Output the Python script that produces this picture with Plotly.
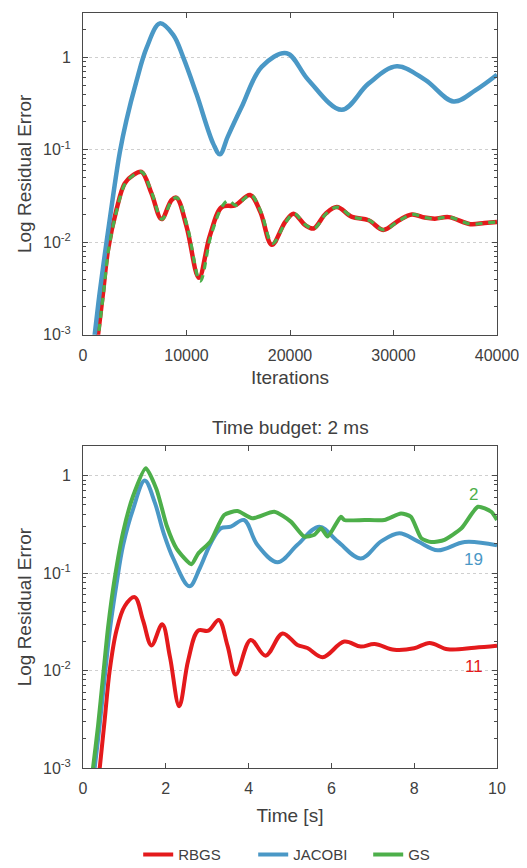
import math
import plotly.graph_objects as go

# ---------------- Data: top panel (error vs iterations) ----------------
iter_jacobi = [900, 1130, 1614, 2260, 2905, 3551, 4196, 5165, 6133, 7424, 8716, 9684,
               10975, 12589, 13226, 14000, 15323, 17258, 19677, 21774, 25000, 27581,
               30323, 33065, 35806, 37903, 40000]
err_jacobi_iter = [6.0e-4, 1.0e-3, 2.86e-3, 9.8e-3, 0.0316, 0.0933, 0.209, 0.553, 1.26, 2.33,
                   1.75, 1.0, 0.398, 0.116, 0.0895, 0.14, 0.29, 0.79, 1.11, 0.57, 0.271,
                   0.52, 0.80, 0.57, 0.333, 0.44, 0.65]

iter_rbgs = [1200, 1453, 1937, 2421, 3228, 4035, 4842, 5649, 6617, 7586, 8554, 9038, 10007,
             11200, 12250, 13400, 14690, 16140, 17140, 18240, 19540, 20340, 21470, 22280,
             23450, 24530, 25990, 27600, 29000, 30500, 31774, 33000, 34000, 35323, 37419,
             38800, 40000]
err_rbgs_iter = [5.8e-4, 1.0e-3, 2.86e-3, 8.3e-3, 0.0224, 0.0433, 0.0531, 0.0577, 0.0338,
                 0.0178, 0.0286, 0.0303, 0.0148, 0.00413, 0.0117, 0.024, 0.0251, 0.0325,
                 0.0212, 0.00938, 0.0166, 0.0204, 0.0153, 0.0141, 0.0204, 0.024, 0.0188,
                 0.0173, 0.0136, 0.0172, 0.0200, 0.0185, 0.0180, 0.0187, 0.0157, 0.0162,
                 0.0166]

iter_gs = [1250, 1500, 1990, 2470, 3270, 4080, 4880, 5690, 6660, 7630, 8600, 9080, 10080,
           11320, 12350, 13500, 14040, 14760, 16200, 17200, 18300, 19600, 20400, 21530,
           22340, 23500, 24580, 26050, 27650, 29050, 30550, 31830, 33050, 34050, 35380,
           37470, 38850, 40000]
err_gs_iter = [5.8e-4, 1.0e-3, 2.86e-3, 8.3e-3, 0.0224, 0.0433, 0.0531, 0.0577, 0.0338,
               0.0178, 0.0286, 0.0303, 0.0148, 0.0038, 0.0117, 0.025, 0.0283, 0.0251,
               0.0325, 0.0212, 0.0097, 0.0166, 0.0204, 0.0153, 0.0141, 0.0204, 0.024,
               0.0188, 0.0173, 0.0136, 0.0172, 0.0200, 0.0185, 0.0180, 0.0187, 0.0157,
               0.0162, 0.0166]

# ---------------- Data: bottom panel (error vs time) ----------------
t_jacobi = [0.22, 0.282, 0.40, 0.525, 0.646, 0.807, 0.969, 1.21, 1.49, 1.735, 1.94, 2.18,
            2.57, 2.82, 3.08, 3.33, 3.57, 3.89, 4.21, 4.70, 5.18, 5.71, 6.15, 6.71, 7.2,
            7.64, 8.09, 8.57, 9.22, 10.0]
err_jacobi_t = [5.9e-4, 1.0e-3, 2.7e-3, 8.65e-3, 0.0256, 0.0759, 0.193, 0.453, 0.889,
                0.528, 0.263, 0.141, 0.0731, 0.112, 0.2, 0.288, 0.299, 0.35, 0.195, 0.129,
                0.195, 0.299, 0.211, 0.141, 0.211, 0.256, 0.211, 0.171, 0.208, 0.192]

t_gs = [0.18, 0.242, 0.363, 0.484, 0.605, 0.767, 0.969, 1.21, 1.517, 1.776, 2.02, 2.26,
        2.62, 2.78, 3.08, 3.41, 3.73, 4.09, 4.62, 5.02, 5.34, 5.59, 5.75, 5.91, 6.23, 6.31,
        6.8, 7.28, 7.68, 7.92, 8.17, 8.41, 8.73, 9.14, 9.54, 9.86, 10.0]
err_gs_t = [6.0e-4, 1.0e-3, 2.7e-3, 8.65e-3, 0.0277, 0.0887, 0.263, 0.617, 1.19, 0.721,
            0.307, 0.178, 0.123, 0.158, 0.211, 0.394, 0.432, 0.364, 0.425, 0.337, 0.237,
            0.247, 0.288, 0.237, 0.378, 0.35, 0.35, 0.35, 0.408, 0.378, 0.228, 0.208,
            0.219, 0.288, 0.478, 0.425, 0.35]

t_rbgs = [0.35, 0.404, 0.525, 0.646, 0.807, 1.01, 1.25, 1.453, 1.655, 1.913, 2.1, 2.324,
          2.54, 2.78, 3.03, 3.28, 3.49, 3.69, 4.05, 4.41, 4.82, 5.18, 5.42, 5.79, 6.31,
          6.71, 7.04, 7.52, 8.0, 8.37, 8.81, 9.46, 10.0]
err_rbgs_t = [6.0e-4, 1.0e-3, 3.16e-3, 0.0101, 0.0256, 0.0459, 0.0566, 0.0324, 0.0181,
              0.0299, 0.0138, 0.0043, 0.0127, 0.0256, 0.0256, 0.033, 0.018, 0.0091, 0.0206,
              0.0142, 0.024, 0.0183, 0.017, 0.0137, 0.0198, 0.0176, 0.0187, 0.0163, 0.0169,
              0.0192, 0.0165, 0.0171, 0.0179]

# final labels at the right of the bottom panel
end_labels = ["2", "19", "11"]
end_label_y = [0.646, 0.139, 0.011]

y_tickvals = [0.001, 0.01, 0.1, 1]
y_ticktext = ["10<sup>-3</sup>", "10<sup>-2</sup>", "10<sup>-1</sup>", "1"]
y_minor = [k * 10.0 ** e for e in range(-3, 1) for k in range(2, 10)]
x_iter_ticks = [0, 10000, 20000, 30000, 40000]
x_iter_text = ["0", "10000", "20000", "30000", "40000"]
x_time_ticks = [0, 2, 4, 6, 8, 10]
x_time_text = ["0", "2", "4", "6", "8", "10"]

RED = "#e41a1c"
BLUE = "#4a98c6"
GREEN = "#4daf4a"
TEXT = "#404040"
AXIS = "#4a4a4a"
FONT = "Liberation Sans, Arial, Helvetica, sans-serif"

fig = go.Figure()

# top panel
fig.add_trace(go.Scatter(x=iter_rbgs, y=err_rbgs_iter, mode="lines", name="RBGS",
                         line=dict(color=RED, width=4.5, shape="spline", smoothing=1),
                         xaxis="x", yaxis="y", showlegend=False))
fig.add_trace(go.Scatter(x=iter_jacobi, y=err_jacobi_iter, mode="lines", name="JACOBI",
                         line=dict(color=BLUE, width=4.5, shape="spline", smoothing=1),
                         xaxis="x", yaxis="y", showlegend=False))
fig.add_trace(go.Scatter(x=iter_gs, y=err_gs_iter, mode="lines", name="GS",
                         line=dict(color=GREEN, width=3.2, dash="7px,6px", shape="spline", smoothing=1),
                         xaxis="x", yaxis="y", showlegend=False))

# bottom panel
fig.add_trace(go.Scatter(x=t_rbgs, y=err_rbgs_t, mode="lines", name="RBGS",
                         line=dict(color=RED, width=4, shape="spline", smoothing=1),
                         xaxis="x2", yaxis="y2"))
fig.add_trace(go.Scatter(x=t_jacobi, y=err_jacobi_t, mode="lines", name="JACOBI",
                         line=dict(color=BLUE, width=4, shape="spline", smoothing=1),
                         xaxis="x2", yaxis="y2"))
fig.add_trace(go.Scatter(x=t_gs, y=err_gs_t, mode="lines", name="GS",
                         line=dict(color=GREEN, width=4, shape="spline", smoothing=0.6),
                         xaxis="x2", yaxis="y2"))

common_axis = dict(showline=True, linecolor=AXIS, linewidth=1, mirror="ticks",
                   ticks="inside", ticklen=5, tickcolor=AXIS, zeroline=False,
                   tickfont=dict(family=FONT, size=16, color=TEXT))

xcommon = dict(common_axis, showgrid=False)
ycommon = dict(common_axis, type="log", tickvals=y_tickvals, ticktext=y_ticktext,
               showgrid=True, gridcolor="#cfcfcf", griddash="dot", gridwidth=1,
               minor=dict(tickvals=y_minor, ticks="inside", ticklen=3, tickcolor=AXIS,
                          showgrid=False),
               title=dict(text="Log Residual Error", font=dict(family=FONT, size=19, color=TEXT),
                          standoff=6),
               ticklabelstandoff=8)

fig.update_layout(
    width=527, height=868,
    margin=dict(l=75, r=38, t=5, b=98),
    paper_bgcolor="white", plot_bgcolor="white",
    font=dict(family=FONT, color=TEXT),
    xaxis=dict(xcommon, domain=[0, 1], anchor="y", range=[0, 40000],
               tickvals=x_iter_ticks, ticktext=x_iter_text, ticklabelstandoff=6,
               title=dict(text="Iterations", font=dict(family=FONT, size=19, color=TEXT),
                          standoff=7)),
    yaxis=dict(ycommon, domain=[0.5739, 1], anchor="x", range=[-3, 0.48]),
    xaxis2=dict(xcommon, domain=[0, 1], anchor="y2", range=[0, 10],
                tickvals=x_time_ticks, ticktext=x_time_text, ticklabelstandoff=6,
                title=dict(text="Time [s]", font=dict(family=FONT, size=19, color=TEXT),
                           standoff=12)),
    yaxis2=dict(ycommon, domain=[0, 0.4261], anchor="x2", range=[-3, 0.3]),
    legend=dict(orientation="h", x=0.55, xanchor="center", y=-0.115, yanchor="middle",
                font=dict(family=FONT, size=15, color=TEXT), bgcolor="rgba(0,0,0,0)",
                itemwidth=30, tracegroupgap=0, entrywidth=70, entrywidthmode="pixels"),
    showlegend=True,
)

fig.add_annotation(text="Time budget: 2 ms", xref="x2 domain", yref="y2 domain",
                   x=0.5, y=1.0, yshift=6, yanchor="bottom", showarrow=False,
                   font=dict(family=FONT, size=19, color=TEXT))

label_colors = [GREEN, BLUE, RED]
for txt, yv, c in zip(end_labels, end_label_y, label_colors):
    fig.add_annotation(text=txt, x=9.44, y=math.log10(yv), xref="x2", yref="y2",
                       showarrow=False, font=dict(family=FONT, size=17, color=c))

fig.write_html("out.html")
